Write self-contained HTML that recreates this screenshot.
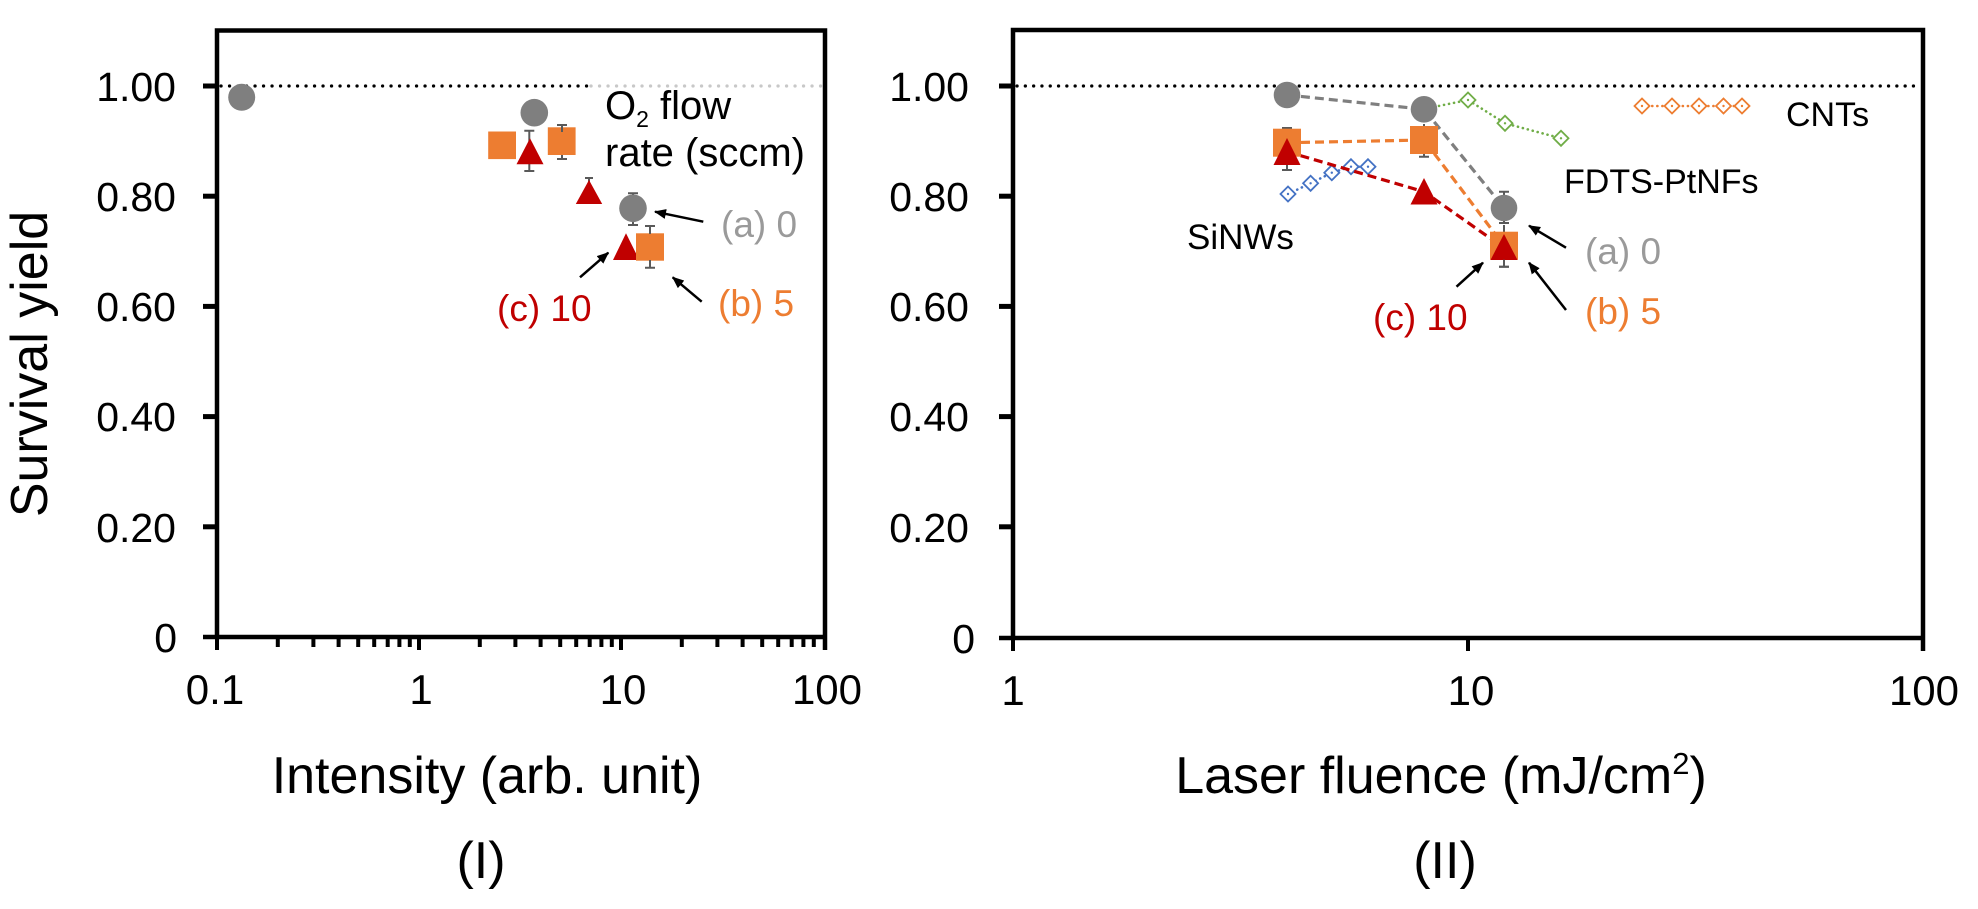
<!DOCTYPE html>
<html><head><meta charset="utf-8"><style>
html,body{margin:0;padding:0;background:#fff;}
svg{display:block;}
text{font-family:"Liberation Sans",Arial,sans-serif;}
</style></head><body>
<svg width="1978" height="909" viewBox="0 0 1978 909" xmlns="http://www.w3.org/2000/svg">
<defs>
<marker id="ah" viewBox="0 0 12 10" refX="11" refY="5" markerWidth="12" markerHeight="10" markerUnits="userSpaceOnUse" orient="auto">
<path d="M0,0 L12,5 L0,10 Z" fill="#000"/>
</marker>
</defs>
<rect width="1978" height="909" fill="#fff"/>

<!-- ===== LEFT PANEL ===== -->
<!-- reference dotted line -->
<line x1="221" y1="86" x2="587" y2="86" stroke="#000" stroke-width="3.2" stroke-linecap="round" stroke-dasharray="0.1 8.4"/>
<line x1="591" y1="86" x2="822" y2="86" stroke="#c8c8c8" stroke-width="3.2" stroke-linecap="round" stroke-dasharray="0.1 8.4"/>
<!-- box -->
<path d="M217,637 L217,30.5 L825,30.5 L825,650" fill="none" stroke="#000" stroke-width="4.5"/>
<line x1="203" y1="637" x2="827" y2="637" stroke="#000" stroke-width="4.5"/>
<!-- y ticks -->
<g stroke="#000" stroke-width="5">
<line x1="203" y1="86" x2="217" y2="86"/>
<line x1="203" y1="196.2" x2="217" y2="196.2"/>
<line x1="203" y1="306.4" x2="217" y2="306.4"/>
<line x1="203" y1="416.6" x2="217" y2="416.6"/>
<line x1="203" y1="526.8" x2="217" y2="526.8"/>
</g>
<!-- x ticks -->
<g stroke="#000" stroke-width="4">
<line x1="217" y1="637" x2="217" y2="650"/>
<line x1="419" y1="637" x2="419" y2="650"/>
<line x1="621" y1="637" x2="621" y2="650"/>
<!-- minor 0.2..0.9 -->
<line x1="277.8" y1="637" x2="277.8" y2="647"/>
<line x1="313.4" y1="637" x2="313.4" y2="647"/>
<line x1="338.6" y1="637" x2="338.6" y2="647"/>
<line x1="358.2" y1="637" x2="358.2" y2="647"/>
<line x1="374.2" y1="637" x2="374.2" y2="647"/>
<line x1="387.7" y1="637" x2="387.7" y2="647"/>
<line x1="399.4" y1="637" x2="399.4" y2="647"/>
<line x1="409.8" y1="637" x2="409.8" y2="647"/>
<!-- minor 2..9 -->
<line x1="479.8" y1="637" x2="479.8" y2="647"/>
<line x1="515.4" y1="637" x2="515.4" y2="647"/>
<line x1="540.6" y1="637" x2="540.6" y2="647"/>
<line x1="560.2" y1="637" x2="560.2" y2="647"/>
<line x1="576.2" y1="637" x2="576.2" y2="647"/>
<line x1="589.7" y1="637" x2="589.7" y2="647"/>
<line x1="601.4" y1="637" x2="601.4" y2="647"/>
<line x1="611.8" y1="637" x2="611.8" y2="647"/>
<!-- minor 20..90 -->
<line x1="681.8" y1="637" x2="681.8" y2="647"/>
<line x1="717.4" y1="637" x2="717.4" y2="647"/>
<line x1="742.6" y1="637" x2="742.6" y2="647"/>
<line x1="762.2" y1="637" x2="762.2" y2="647"/>
<line x1="778.2" y1="637" x2="778.2" y2="647"/>
<line x1="791.7" y1="637" x2="791.7" y2="647"/>
<line x1="803.4" y1="637" x2="803.4" y2="647"/>
<line x1="813.8" y1="637" x2="813.8" y2="647"/>
</g>
<!-- y tick labels -->
<g font-size="41" fill="#000" text-anchor="end">
<text x="176" y="101">1.00</text>
<text x="176" y="211">0.80</text>
<text x="176" y="321">0.60</text>
<text x="176" y="431">0.40</text>
<text x="176" y="542">0.20</text>
<text x="177" y="652">0</text>
</g>
<!-- x tick labels -->
<g font-size="42" fill="#000" text-anchor="middle">
<text x="215" y="704">0.1</text>
<text x="421" y="704">1</text>
<text x="623" y="704">10</text>
<text x="827" y="704">100</text>
</g>
<text x="487" y="793" font-size="52" text-anchor="middle">Intensity (arb. unit)</text>
<text x="481" y="878" font-size="52" text-anchor="middle">(I)</text>
<text transform="translate(47,364) rotate(-90)" font-size="52" text-anchor="middle">Survival yield</text>

<!-- left data -->
<g stroke="#595959" stroke-width="2" fill="none">
<path d="M529.3,130.7 V171 M524.3,130.7 H534.3 M524.3,171 H534.3"/>
<path d="M562,125 V159 M557,125 H567 M557,159 H567"/>
<path d="M633,193.3 V225 M628,193.3 H638 M628,225 H638"/>
<path d="M650,226 V267.7 M645,226 H655 M645,267.7 H655"/>
<path d="M589,178 V182 M585,178 H593"/>
</g>
<circle cx="241.7" cy="97.3" r="13.5" fill="#7f7f7f"/>
<circle cx="534.3" cy="112.7" r="13.8" fill="#7f7f7f"/>
<circle cx="633" cy="208.3" r="13.8" fill="#7f7f7f"/>
<rect x="488.2" y="131.5" width="27.8" height="27.6" fill="#ed7d31"/>
<rect x="547.8" y="127.3" width="27.8" height="27.7" fill="#ed7d31"/>
<polygon points="530,138.3 516.5,164.3 543.5,164.3" fill="#c00000"/>
<polygon points="589,180 575.8,204 602.2,204" fill="#c00000"/>
<polygon points="626,233.3 613,260 639.3,260" fill="#c00000"/>
<rect x="636" y="233.3" width="28" height="27.4" fill="#ed7d31"/>
<path d="M562,125 V132" stroke="#595959" stroke-width="2"/>
<path d="M650,226 V234" stroke="#595959" stroke-width="2"/>
<path d="M650,260 V267.7" stroke="#595959" stroke-width="2"/>

<!-- left annotations -->
<text x="605" y="119" font-size="40" fill="#000">O<tspan font-size="23" dy="8">2</tspan><tspan dy="-8"> flow</tspan></text>
<text x="605" y="166" font-size="40" fill="#000">rate (sccm)</text>
<text x="721" y="237" font-size="37" fill="#9a9a9a">(a) 0</text>
<text x="718" y="316" font-size="37" fill="#ed7d31">(b) 5</text>
<text x="497" y="321" font-size="37" fill="#c00000">(c) 10</text>
<g stroke="#000" stroke-width="2.5" marker-end="url(#ah)">
<line x1="703.3" y1="221.7" x2="655" y2="211.7"/>
<line x1="580" y1="277.3" x2="608.3" y2="252.7"/>
<line x1="701.7" y1="301.7" x2="672.7" y2="277.3"/>
</g>

<!-- ===== RIGHT PANEL ===== -->
<line x1="1017" y1="86" x2="1920" y2="86" stroke="#000" stroke-width="3.2" stroke-linecap="round" stroke-dasharray="0.1 8.2"/>
<path d="M1013,638 L1013,30 L1923,30 L1923,651" fill="none" stroke="#000" stroke-width="4.5"/>
<line x1="999" y1="638" x2="1925" y2="638" stroke="#000" stroke-width="4.5"/>
<g stroke="#000" stroke-width="5">
<line x1="999" y1="86" x2="1013" y2="86"/>
<line x1="999" y1="196.2" x2="1013" y2="196.2"/>
<line x1="999" y1="306.4" x2="1013" y2="306.4"/>
<line x1="999" y1="416.6" x2="1013" y2="416.6"/>
<line x1="999" y1="526.8" x2="1013" y2="526.8"/>
</g>
<g stroke="#000" stroke-width="4">
<line x1="1013" y1="638" x2="1013" y2="651"/>
<line x1="1468" y1="638" x2="1468" y2="651"/>
</g>
<g font-size="41" fill="#000" text-anchor="end">
<text x="969" y="101">1.00</text>
<text x="969" y="211">0.80</text>
<text x="969" y="321">0.60</text>
<text x="969" y="431">0.40</text>
<text x="969" y="542">0.20</text>
<text x="975" y="653">0</text>
</g>
<g font-size="42" fill="#000" text-anchor="middle">
<text x="1013" y="705">1</text>
<text x="1471" y="705">10</text>
<text x="1924" y="705">100</text>
</g>
<text x="1441" y="793" font-size="52" text-anchor="middle">Laser fluence (mJ/cm<tspan font-size="31" dy="-19">2</tspan><tspan dy="19">)</tspan></text>
<text x="1445" y="878" font-size="52" text-anchor="middle">(II)</text>

<!-- reference series: dotted lines -->
<g fill="none" stroke-width="2.6" stroke-linecap="round" stroke-dasharray="0.1 5">
<polyline points="1424,109 1468,100 1505,123.3 1561,138.3" stroke="#70ad47"/>
<polyline points="1288,194 1310.6,183.3 1331.8,172.7 1351,166.7 1368,166.7" stroke="#4472c4"/>
<polyline points="1642,106 1672,106 1699,106 1723.5,106 1742,106" stroke="#ed7d31"/>
</g>
<!-- diamonds -->
<g fill="#fff" stroke-width="1.8">
<g stroke="#70ad47">
<polygon points="1468,92.5 1475.5,100 1468,107.5 1460.5,100"/>
<polygon points="1505,115.8 1512.5,123.3 1505,130.8 1497.5,123.3"/>
<polygon points="1561,130.8 1568.5,138.3 1561,145.8 1553.5,138.3"/>
</g>
<g stroke="#4472c4">
<polygon points="1288,186.5 1295.5,194 1288,201.5 1280.5,194"/>
<polygon points="1310.6,175.8 1318.1,183.3 1310.6,190.8 1303.1,183.3"/>
<polygon points="1331.8,165.2 1339.3,172.7 1331.8,180.2 1324.3,172.7"/>
<polygon points="1351,159.2 1358.5,166.7 1351,174.2 1343.5,166.7"/>
<polygon points="1368,159.2 1375.5,166.7 1368,174.2 1360.5,166.7"/>
</g>
<g stroke="#ed7d31">
<polygon points="1642,98.5 1649.5,106 1642,113.5 1634.5,106"/>
<polygon points="1672,98.5 1679.5,106 1672,113.5 1664.5,106"/>
<polygon points="1699,98.5 1706.5,106 1699,113.5 1691.5,106"/>
<polygon points="1723.5,98.5 1731,106 1723.5,113.5 1716,106"/>
<polygon points="1742,98.5 1749.5,106 1742,113.5 1734.5,106"/>
</g>
</g>
<g>
<circle cx="1468" cy="100" r="1.2" fill="#70ad47"/><circle cx="1505" cy="123.3" r="1.2" fill="#70ad47"/><circle cx="1561" cy="138.3" r="1.2" fill="#70ad47"/>
<circle cx="1288" cy="194" r="1.2" fill="#4472c4"/><circle cx="1310.6" cy="183.3" r="1.2" fill="#4472c4"/><circle cx="1331.8" cy="172.7" r="1.2" fill="#4472c4"/><circle cx="1351" cy="166.7" r="1.2" fill="#4472c4"/><circle cx="1368" cy="166.7" r="1.2" fill="#4472c4"/>
<circle cx="1642" cy="106" r="1.2" fill="#ed7d31"/><circle cx="1672" cy="106" r="1.2" fill="#ed7d31"/><circle cx="1699" cy="106" r="1.2" fill="#ed7d31"/><circle cx="1723.5" cy="106" r="1.2" fill="#ed7d31"/><circle cx="1742" cy="106" r="1.2" fill="#ed7d31"/>
</g>

<!-- dashed series lines -->
<g fill="none" stroke-width="3.2" stroke-dasharray="9 5">
<polyline points="1287,95 1424,109.3 1504,208" stroke="#7f7f7f"/>
<polyline points="1287,142.7 1424,140 1504,245.7" stroke="#ed7d31"/>
<polyline points="1287,151.7 1424,191.7 1504,248" stroke="#c00000"/>
</g>
<!-- error bars -->
<g stroke="#595959" stroke-width="2" fill="none">
<path d="M1287,128 V170 M1282,128 H1292 M1282,170 H1292"/>
<path d="M1424,124 V156.7 M1419,156.7 H1429"/>
<path d="M1504,191.7 V223 M1499,191.7 H1509 M1499,223 H1509"/>
<path d="M1504,225 V266.7 M1499,266.7 H1509"/>
</g>
<!-- markers -->
<circle cx="1287" cy="95" r="13.3" fill="#7f7f7f"/>
<circle cx="1424" cy="109.3" r="13.3" fill="#7f7f7f"/>
<circle cx="1504" cy="208" r="13.3" fill="#7f7f7f"/>
<rect x="1273" y="128.7" width="28" height="28" fill="#ed7d31"/>
<rect x="1410" y="126" width="28" height="28" fill="#ed7d31"/>
<rect x="1490" y="231.7" width="28" height="28" fill="#ed7d31"/>
<polygon points="1287,138 1273.5,165 1300.5,165" fill="#c00000"/>
<polygon points="1424,178 1410.5,204.5 1437.5,204.5" fill="#c00000"/>
<polygon points="1504,234 1490.5,260 1517.5,260" fill="#c00000"/>
<path d="M1287,165 V170 M1282,170 H1292" stroke="#595959" stroke-width="2"/>
<path d="M1504,259.7 V266.7 M1499,266.7 H1509" stroke="#595959" stroke-width="2"/>
<path d="M1504,221 V223" stroke="#595959" stroke-width="2"/>

<!-- right labels -->
<text x="1786" y="126" font-size="34" fill="#000">CNTs</text>
<text x="1564" y="193" font-size="34" fill="#000">FDTS-PtNFs</text>
<text x="1187" y="249" font-size="35" fill="#000">SiNWs</text>
<text x="1585" y="264" font-size="37" fill="#9a9a9a">(a) 0</text>
<text x="1585" y="324" font-size="37" fill="#ed7d31">(b) 5</text>
<text x="1373" y="330" font-size="37" fill="#c00000">(c) 10</text>
<g stroke="#000" stroke-width="2.5" marker-end="url(#ah)">
<line x1="1566" y1="247.7" x2="1529" y2="225.7"/>
<line x1="1456.5" y1="286.7" x2="1483" y2="262.7"/>
<line x1="1566" y1="310" x2="1529" y2="262.7"/>
</g>
</svg>
</body></html>
